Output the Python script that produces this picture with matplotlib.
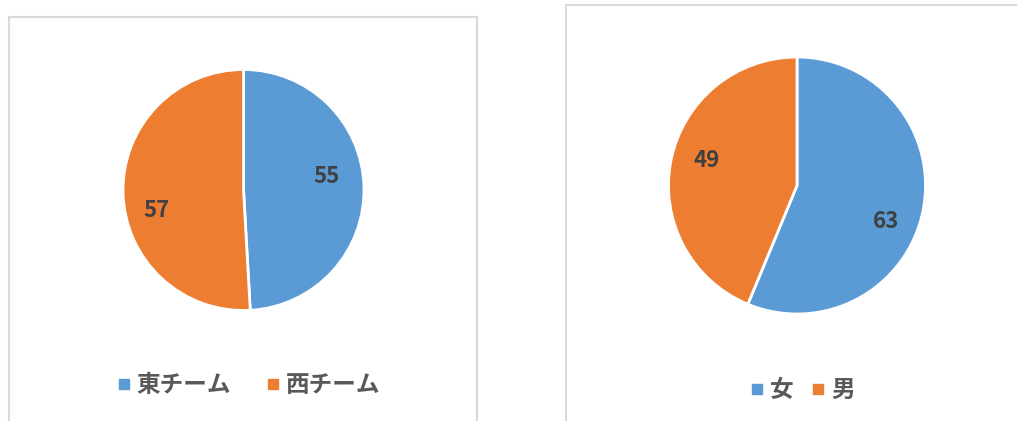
import matplotlib
matplotlib.use("Agg")
import numpy as np
import matplotlib.pyplot as plt
from matplotlib.patches import Rectangle
from matplotlib.lines import Line2D

plt.rcParams['font.family'] = ['Noto Sans CJK JP', 'DejaVu Sans']

# Team split
team_labels = ['東チーム', '西チーム']
team_values = [55, 57]

# Gender split
gender_labels = ['女', '男']
gender_values = [63, 49]

colors = ['#5B9BD5', '#ED7D31']

W, H = 1017, 421
fig = plt.figure(figsize=(W / 100, H / 100), dpi=100)
fig.patch.set_facecolor('white')


def px_axes(cx, cy, r):
    """Square axes centred at (cx, cy) in pixel coords from top-left."""
    return fig.add_axes([(cx - r) / W, (H - cy - r) / H, 2 * r / W, 2 * r / H])


def panel_border(x0, y0, x1, y1):
    fig.patches.append(Rectangle((x0 / W, (H - y1) / H), (x1 - x0) / W, (y1 - y0) / H,
                                 transform=fig.transFigure, fill=False,
                                 edgecolor='#D9D9D9', linewidth=1.5, zorder=0))


def draw_pie(ax, values, label_r, label_shift):
    """Pie from 12 o'clock clockwise; value labels placed at label_r with an
    angular nudge (degrees) away from each wedge's mid-angle."""
    total = sum(values)
    wedges, _, autotexts = ax.pie(
        values, colors=colors, startangle=90, counterclock=False, radius=1,
        autopct=lambda p: f"{round(p * total / 100):d}",
        wedgeprops=dict(edgecolor='white', linewidth=2),
        textprops=dict(color='#404040', fontsize=16, fontweight='bold'))
    for w, t, r, d in zip(wedges, autotexts, label_r, label_shift):
        ang = np.deg2rad((w.theta1 + w.theta2) / 2 + d)
        t.set_position((r * np.cos(ang), r * np.sin(ang)))
    ax.set_xlim(-1, 1)
    ax.set_ylim(-1, 1)
    ax.set_aspect('equal')
    ax.axis('off')
    return wedges


def legend_at(labels, cx, cy, colspace):
    handles = [Line2D([], [], marker='s', linestyle='none', markersize=7,
                      markerfacecolor=c, markeredgecolor=c) for c in colors]
    fig.legend(handles, labels, loc='center', bbox_to_anchor=(cx / W, (H - cy) / H),
               ncol=2, frameon=False, handlelength=0.5, handletextpad=0.3,
               columnspacing=colspace,
               prop=dict(size=17, weight='bold'), labelcolor='#595959')


# Panel frames
panel_border(8.5, 16.5, 477, 440)
panel_border(566, 4.5, 1040, 440)

ax1 = px_axes(243.5, 190, 120.5)
draw_pie(ax1, team_values, [0.70, 0.74], [7.5, 12.0])
legend_at(team_labels, 249, 385, 1.5)

ax2 = px_axes(797, 185.5, 128.5)
draw_pie(ax2, gender_values, [0.75, 0.73], [-10.5, -4.5])
legend_at(gender_labels, 803, 390, 0.8)

fig.savefig('out.png', dpi=100, facecolor='white')
